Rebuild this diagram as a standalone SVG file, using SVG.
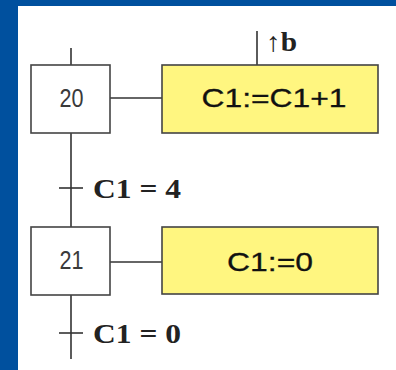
<svg xmlns="http://www.w3.org/2000/svg" width="396" height="370" viewBox="0 0 396 370">
  <style>
    .ln { stroke: #333; stroke-width: 1.6; fill: none; }
    .step { fill: #ffffff; stroke: #444; stroke-width: 1.6; }
    .act { fill: #fff680; stroke: #444; stroke-width: 1.6; }
    .num { font-family: "Liberation Sans", Arial, sans-serif; font-size: 25px; fill: #3a3a3a; text-anchor: middle; }
    .acttxt { font-family: "Liberation Sans", Arial, sans-serif; font-size: 26px; fill: #111; stroke: #111; stroke-width: 0.3; text-anchor: middle; }
    .cond { font-family: "Liberation Serif", serif; font-weight: bold; font-size: 27px; fill: #222; }
  </style>

  <!-- backdrop -->
  <rect x="0" y="0" width="396" height="370" fill="#00509e"/>
  <rect x="18" y="6" width="378" height="364" fill="#ffffff"/>

  <!-- links, transitions and event input -->
  <g id="connectors">
    <line class="ln" x1="71" y1="48" x2="71" y2="65"/>
    <line class="ln" x1="110" y1="98" x2="162" y2="98"/>
    <line class="ln" x1="257" y1="31" x2="257" y2="65"/>
    <line class="ln" x1="71" y1="133" x2="71" y2="227"/>
    <line class="ln" x1="59" y1="188" x2="83" y2="188"/>
    <line class="ln" x1="110" y1="262" x2="162" y2="262"/>
    <line class="ln" x1="71" y1="295" x2="71" y2="359"/>
    <line class="ln" x1="59" y1="333" x2="83" y2="333"/>
    <text class="cond" x="266" y="51" font-size="24" textLength="31" lengthAdjust="spacingAndGlyphs">↑b</text>
    <text class="cond" x="93" y="198" textLength="88" lengthAdjust="spacingAndGlyphs">C1 = 4</text>
    <text class="cond" x="93" y="343" textLength="88" lengthAdjust="spacingAndGlyphs">C1 = 0</text>
  </g>

  <g id="step20">
    <rect class="step" x="31" y="65" width="79" height="68"/>
    <text class="num" x="71.5" y="107" textLength="24" lengthAdjust="spacingAndGlyphs">20</text>
  </g>

  <g id="action20">
    <rect class="act" x="162" y="65" width="216" height="68"/>
    <text class="acttxt" x="274" y="107" textLength="145" lengthAdjust="spacingAndGlyphs">C1:=C1+1</text>
  </g>

  <g id="step21">
    <rect class="step" x="31" y="227" width="79" height="68"/>
    <text class="num" x="71.5" y="269" textLength="24" lengthAdjust="spacingAndGlyphs">21</text>
  </g>

  <g id="action21">
    <rect class="act" x="162" y="227" width="216" height="67"/>
    <text class="acttxt" x="270" y="271" textLength="86" lengthAdjust="spacingAndGlyphs">C1:=0</text>
  </g>
</svg>
